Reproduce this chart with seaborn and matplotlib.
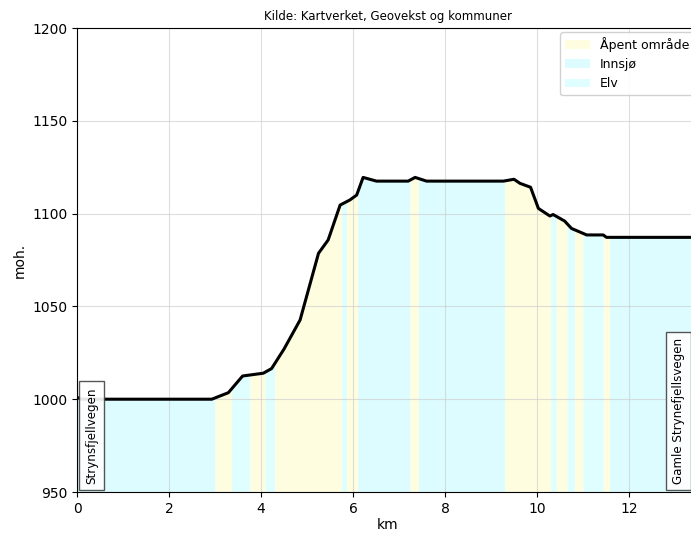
import numpy as np
import pandas as pd
import matplotlib
matplotlib.use("Agg")
import matplotlib.pyplot as plt
from matplotlib.patches import Patch
import seaborn as sns

# --- Elevation profile (km, metres above sea level) ---
dist_km = [0.0, 0.1, 2.93, 3.29, 3.6, 4.05, 4.23, 4.5, 4.85, 5.25, 5.46, 5.72,
           5.93, 6.08, 6.22, 6.51, 7.2, 7.35, 7.6, 9.27, 9.5, 9.63, 9.86, 10.03,
           10.28, 10.35, 10.6, 10.75, 11.08, 11.44, 11.51, 13.5]
elev_m = [1001, 1000, 1000, 1003.5, 1012.5, 1014, 1016.5, 1027, 1042.7, 1078.6,
          1085.8, 1104.6, 1107.3, 1110, 1119.5, 1117.5, 1117.5, 1119.5, 1117.5,
          1117.5, 1118.5, 1116.3, 1114.2, 1102.8, 1098.7, 1099.5, 1096, 1092,
          1088.5, 1088.5, 1087.2, 1087.2]

# --- Land cover segments along the route ---
seg_start = [0.0, 3.0, 3.36, 3.76, 4.09, 4.3, 5.75, 5.86, 6.1, 7.24, 7.42, 9.3,
             10.3, 10.42, 10.65, 10.82, 11.0, 11.44, 11.59]
seg_end = [3.0, 3.36, 3.76, 4.09, 4.3, 5.75, 5.86, 6.1, 7.24, 7.42, 9.3, 10.3,
           10.42, 10.65, 10.82, 11.0, 11.44, 11.59, 13.5]
seg_type = ["Innsjø", "Åpent område", "Elv", "Åpent område", "Elv",
            "Åpent område", "Elv", "Åpent område", "Innsjø", "Åpent område",
            "Innsjø", "Åpent område", "Elv", "Åpent område", "Elv",
            "Åpent område", "Elv", "Åpent område", "Innsjø"]

legend_labels = ["Åpent område", "Innsjø", "Elv"]
type_colors = {"Åpent område": "#fffde0", "Innsjø": "#dcfcff", "Elv": "#dffeff"}

title = "Kilde: Kartverket, Geovekst og kommuner"
start_label = "Strynsfjellvegen"
end_label = "Gamle Strynefjellsvegen"

df = pd.DataFrame({"km": dist_km, "moh": elev_m})

W, H = 691, 533
fig = plt.figure(figsize=(W / 100, H / 100), dpi=100)
ax = fig.add_axes([77 / W, 41 / H, 621 / W, 464 / H])

y0 = 950
px = np.array(dist_km)
py = np.array(elev_m)
for s, e, t in zip(seg_start, seg_end, seg_type):
    inner = px[(px > s) & (px < e)]
    xs = np.concatenate([[s], inner, [e]])
    ys = np.interp(xs, px, py)
    ax.fill_between(xs, y0, ys, color=type_colors[t], linewidth=0, zorder=1)

sns.lineplot(data=df, x="km", y="moh", ax=ax, color="black", linewidth=2.2,
             zorder=3, sort=False)

ax.set_xlim(0, 13.5)
ax.set_ylim(950, 1200)
ax.set_xticks([0, 2, 4, 6, 8, 10, 12])
ax.set_yticks([950, 1000, 1050, 1100, 1150, 1200])
ax.grid(True, color="#d0d0d0", linewidth=0.8, alpha=0.7)
for l in ax.get_xgridlines() + ax.get_ygridlines():
    l.set_zorder(2)
for sp in ax.spines.values():
    sp.set_color("black")
    sp.set_zorder(5)
ax.tick_params(labelsize=10)
ax.set_xlabel("km", fontsize=10, labelpad=1.5)
ax.set_ylabel("moh.", fontsize=10)
ax.set_title(title, fontsize=8.5, pad=6)

box = dict(boxstyle="square,pad=0.5", facecolor="white", edgecolor="#444444",
           linewidth=1, alpha=0.9)
ax.text(0.18, 954.5, start_label, rotation=90, ha="left", va="bottom",
        fontsize=8.6, bbox=box, zorder=4)
ax.text(13.22, 954.5, end_label, rotation=90, ha="right", va="bottom",
        fontsize=8.6, bbox=box, zorder=4)

handles = [Patch(facecolor=type_colors[k], edgecolor="none", label=k)
           for k in legend_labels]
ax.legend(handles=handles, loc="upper left", fontsize=9, framealpha=0.9,
          bbox_to_anchor=(560 / W, 1 - 32 / H), bbox_transform=fig.transFigure,
          borderaxespad=0)

fig.savefig("out.png", dpi=100)
